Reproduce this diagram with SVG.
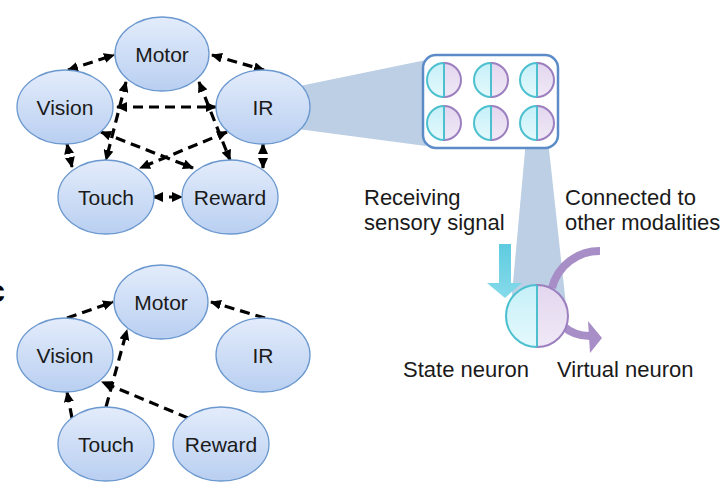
<svg xmlns="http://www.w3.org/2000/svg" width="725" height="482" viewBox="0 0 725 482">
<defs>
<linearGradient id="nodeFill" x1="0" y1="0" x2="0" y2="1">
<stop offset="0" stop-color="#e3ecfb"/>
<stop offset="1" stop-color="#b9cff1"/>
</linearGradient>
<linearGradient id="cyanFill" x1="0" y1="0" x2="0" y2="1">
<stop offset="0" stop-color="#c6f0f8"/>
<stop offset="1" stop-color="#e4f9fc"/>
</linearGradient>
<linearGradient id="purpFill" x1="0" y1="0" x2="0" y2="1">
<stop offset="0" stop-color="#e3d6ef"/>
<stop offset="1" stop-color="#f0e9f6"/>
</linearGradient>
<linearGradient id="cyanArrow" x1="0" y1="0" x2="0" y2="1">
<stop offset="0" stop-color="#5fcbe0"/>
<stop offset="1" stop-color="#86dbea"/>
</linearGradient>
<marker id="ah" viewBox="0 0 11 10" refX="10" refY="5" markerWidth="11" markerHeight="10" markerUnits="userSpaceOnUse" orient="auto-start-reverse">
<path d="M0,0 L11,5 L0,10 z" fill="#000"/>
</marker>
</defs>
<style>
.node ellipse{fill:url(#nodeFill);stroke:#6b98cf;stroke-width:1.3}
.node text{font-family:"Liberation Sans",Arial,sans-serif;font-size:21px;fill:#1a1a1a;text-anchor:middle}
.edge{fill:none;stroke:#000;stroke-width:3.2;stroke-dasharray:10 6}
.bi{marker-start:url(#ah);marker-end:url(#ah)}
.uni{marker-end:url(#ah)}
.lbl{font-family:"Liberation Sans",Arial,sans-serif;font-size:22px;fill:#1a1a1a}
.sL{fill:url(#cyanFill);stroke:#4cc0cf;stroke-width:2}
.sR{fill:url(#purpFill);stroke:#9c7fbf;stroke-width:2}
.div{stroke:#4cc0cf;stroke-width:2}
.beam{fill:#bccfe4}
</style>

<text x="5" y="302" font-family="Liberation Sans,Arial,sans-serif" font-size="32" font-weight="bold" text-anchor="end" fill="#000">c</text>

<!-- beams -->
<polygon class="beam" points="290,88 426,60 426,146 290,128"/>
<polygon class="beam" points="526,140 548,140 566,305 511,305"/>

<!-- top graph connectors -->
<g id="edges-top">
<line class="edge bi" x1="68" y1="70" x2="114" y2="55"/>
<line class="edge bi" x1="212" y1="55" x2="264" y2="70"/>
<line class="edge bi" x1="117" y1="107" x2="216" y2="107"/>
<line class="edge bi" x1="101" y1="132" x2="193" y2="168"/>
<line class="edge bi" x1="227" y1="132" x2="140" y2="168"/>
<line class="edge bi" x1="126" y1="82" x2="106" y2="160"/>
<line class="edge bi" x1="199" y1="82" x2="230" y2="160"/>
<line class="edge bi" x1="67" y1="144" x2="72" y2="167"/>
<line class="edge bi" x1="263" y1="144" x2="263" y2="168"/>
<line class="edge bi" x1="153" y1="197" x2="182" y2="197" stroke-dasharray="none"/>
</g>

<!-- bottom graph connectors -->
<g id="edges-bottom">
<line class="edge uni" x1="67" y1="318" x2="113" y2="302"/>
<line class="edge uni" x1="265" y1="318" x2="211" y2="302"/>
<line class="edge uni" x1="106" y1="407" x2="127" y2="330"/>
<line class="edge uni" x1="72" y1="418" x2="67" y2="392"/>
<line class="edge uni" x1="188" y1="418" x2="102" y2="382"/>
</g>

<!-- top nodes -->
<g id="motor-top" class="node"><ellipse cx="162" cy="54" rx="47" ry="37"/><text x="162" y="62">Motor</text></g>
<g id="vision-top" class="node"><ellipse cx="65" cy="107" rx="48" ry="37"/><text x="65" y="115">Vision</text></g>
<g id="ir-top" class="node"><ellipse cx="263" cy="107" rx="47" ry="37"/><text x="263" y="115">IR</text></g>
<g id="touch-top" class="node"><ellipse cx="106" cy="197" rx="48" ry="37"/><text x="106" y="205">Touch</text></g>
<g id="reward-top" class="node"><ellipse cx="230" cy="197" rx="48" ry="37"/><text x="230" y="205">Reward</text></g>

<!-- bottom nodes -->
<g id="motor-bottom" class="node"><ellipse cx="161" cy="302" rx="47" ry="37"/><text x="161" y="310">Motor</text></g>
<g id="vision-bottom" class="node"><ellipse cx="65" cy="355" rx="48" ry="37"/><text x="65" y="363">Vision</text></g>
<g id="ir-bottom" class="node"><ellipse cx="263" cy="355" rx="47" ry="37"/><text x="263" y="363">IR</text></g>
<g id="touch-bottom" class="node"><ellipse cx="106" cy="444" rx="48" ry="37"/><text x="106" y="452">Touch</text></g>
<g id="reward-bottom" class="node"><ellipse cx="221" cy="444" rx="48" ry="37"/><text x="221" y="452">Reward</text></g>

<!-- neuron array box -->
<g id="neuron-array">
<rect x="423" y="55" width="135" height="93" rx="13" ry="13" fill="#fff" stroke="#5b8cc8" stroke-width="2.5"/>
<g id="n1"><path class="sL" d="M444,63 A17,17 0 0 0 444,97 Z"/><path class="sR" d="M444,63 A17,17 0 0 1 444,97 Z"/><line class="div" x1="444" y1="63" x2="444" y2="97"/></g>
<g id="n2"><path class="sL" d="M491,63 A17,17 0 0 0 491,97 Z"/><path class="sR" d="M491,63 A17,17 0 0 1 491,97 Z"/><line class="div" x1="491" y1="63" x2="491" y2="97"/></g>
<g id="n3"><path class="sL" d="M537,63 A17,17 0 0 0 537,97 Z"/><path class="sR" d="M537,63 A17,17 0 0 1 537,97 Z"/><line class="div" x1="537" y1="63" x2="537" y2="97"/></g>
<g id="n4"><path class="sL" d="M444,106 A17,17 0 0 0 444,140 Z"/><path class="sR" d="M444,106 A17,17 0 0 1 444,140 Z"/><line class="div" x1="444" y1="106" x2="444" y2="140"/></g>
<g id="n5"><path class="sL" d="M491,106 A17,17 0 0 0 491,140 Z"/><path class="sR" d="M491,106 A17,17 0 0 1 491,140 Z"/><line class="div" x1="491" y1="106" x2="491" y2="140"/></g>
<g id="n6"><path class="sL" d="M537,106 A17,17 0 0 0 537,140 Z"/><path class="sR" d="M537,106 A17,17 0 0 1 537,140 Z"/><line class="div" x1="537" y1="106" x2="537" y2="140"/></g>
</g>

<!-- detail arrows -->
<g id="signal-arrows">
<path d="M499,244 L511,244 L511,283 L522,283 L505,298 L487,283 L499,283 Z" fill="url(#cyanArrow)"/>
<path d="M600,251 A49,49 0 0 0 552,288" fill="none" stroke="#a88ec7" stroke-width="8"/>
<path d="M563,326 Q574,336 590,336" fill="none" stroke="#a88ec7" stroke-width="8"/>
<polygon points="588,321 602,338 590,353" fill="#a88ec7"/>
</g>

<!-- big neuron -->
<g id="big-neuron">
<path class="sL" d="M537,285 A31,31 0 0 0 537,347 Z"/>
<path class="sR" d="M537,285 A31,31 0 0 1 537,347 Z"/>
<line class="div" x1="537" y1="285" x2="537" y2="347"/>
</g>

<!-- labels -->
<g id="labels">
<text class="lbl" x="364" y="205">Receiving</text>
<text class="lbl" x="364" y="230">sensory signal</text>
<text class="lbl" x="565" y="205">Connected to</text>
<text class="lbl" x="565" y="230">other modalities</text>
<text class="lbl" x="403" y="377">State neuron</text>
<text class="lbl" x="557" y="377">Virtual neuron</text>
</g>
</svg>
